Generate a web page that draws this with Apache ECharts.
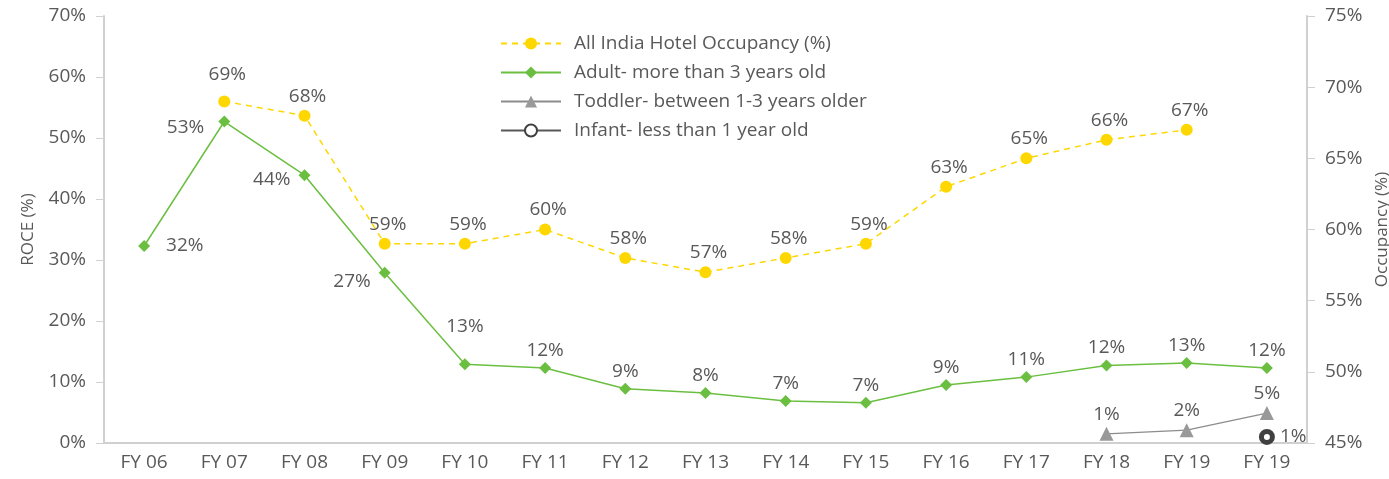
<!DOCTYPE html>
<html>
<head>
<meta charset="utf-8">
<script src="https://cdn.jsdelivr.net/npm/echarts@6/dist/echarts.min.js"></script>
<style>html,body{margin:0;padding:0;background:#fff}#c{width:1389px;height:479px}</style>
</head>
<body>
<div id="c"></div>
<script>
const categories = ['FY 06','FY 07','FY 08','FY 09','FY 10','FY 11','FY 12','FY 13','FY 14','FY 15','FY 16','FY 17','FY 18','FY 19','FY 19'];
const occupancy = [null, 69.0, 68.0, 59.0, 59.0, 60.0, 58.0, 57.0, 58.0, 59.0, 63.0, 65.0, 66.3, 67.0, null];
const occupancyLabels = ['', '69%', '68%', '59%', '59%', '60%', '58%', '57%', '58%', '59%', '63%', '65%', '66%', '67%', ''];
const adult = [32.3, 52.7, 43.9, 27.9, 12.9, 12.3, 8.9, 8.2, 6.9, 6.6, 9.5, 10.8, 12.7, 13.1, 12.3];
const adultLabels = ['32%','53%','44%','27%','13%','12%','9%','8%','7%','7%','9%','11%','12%','13%','12%'];
const toddler = [null,null,null,null,null,null,null,null,null,null,null,null, 1.5, 2.1, 4.9];
const toddlerLabels = ['','','','','','','','','','','','','1%','2%','5%'];
const infant = [null,null,null,null,null,null,null,null,null,null,null,null,null,null, 1.0];
const infantLabels = ['','','','','','','','','','','','','','','1%'];
const leftTicks = [0,10,20,30,40,50,60,70];
const rightTicks = [45,50,55,60,65,70,75];
const seriesNames = ['All India Hotel Occupancy (%)','Adult- more than 3 years old','Toddler- between 1-3 years older','Infant- less than 1 year old'];

const FONT = '"Open Sans", "Noto Sans", sans-serif';
const TXT = '#595959';
const AX = '#d0d0d0';
const FS = 19;

const adultLabelCfg = adult.map((v, i) => {
  if (i === 0) return { position: 'right', distance: 16, offset: [0, 0] };
  if (i === 1) return { position: 'left', distance: 14, offset: [0, 6] };
  if (i === 2) return { position: 'left', distance: 8, offset: [0, 4] };
  if (i === 3) return { position: 'left', distance: 8, offset: [0, 9] };
  if (i === 4) return { position: 'top', distance: 22 };
  return { position: 'top', distance: 2 };
});
const occLabelCfg = occupancy.map((v, i) => (i === 1 ? { distance: 11, offset: [3, 0] } : { distance: 4, offset: [3, 0] }));

const chart = echarts.init(document.getElementById('c'));
chart.setOption({
  animation: false,
  textStyle: { fontFamily: FONT },
  grid: { left: 104, right: 82, top: 16, bottom: 36, outerBoundsMode: 'none', containLabel: false },
  legend: {
    orient: 'vertical',
    left: 495, top: 29,
    itemWidth: 60, itemHeight: 15, itemGap: 10,
    textStyle: { fontFamily: FONT, fontSize: FS, color: TXT, padding: [0, 0, 0, 8] },
    data: seriesNames
  },
  xAxis: {
    type: 'category',
    data: categories,
    boundaryGap: true,
    axisLine: { lineStyle: { color: AX, width: 2 } },
    axisTick: { length: 10, lineStyle: { color: AX, width: 1.5 } },
    axisLabel: { color: TXT, fontSize: FS, margin: 10, interval: 0 }
  },
  yAxis: [{
    type: 'value', min: 0, max: 70, interval: 10,
    name: 'ROCE (%)', nameLocation: 'middle', nameGap: 67, nameRotate: 90,
    nameTextStyle: { color: TXT, fontSize: 17, fontFamily: FONT },
    axisLine: { show: true, lineStyle: { color: AX, width: 2 } },
    axisTick: { show: true, length: 8, lineStyle: { color: AX } },
    splitLine: { show: false },
    axisLabel: { color: TXT, fontSize: FS, margin: 18, formatter: v => v + '%' }
  }, {
    type: 'value', min: 45, max: 75, interval: 5, position: 'right',
    name: 'Occupancy (%)', nameLocation: 'middle', nameGap: 61, nameRotate: 90,
    nameTextStyle: { color: TXT, fontSize: 17, fontFamily: FONT },
    axisLine: { show: true, lineStyle: { color: AX, width: 2 } },
    axisTick: { show: true, length: 8, lineStyle: { color: AX } },
    splitLine: { show: false },
    axisLabel: { color: TXT, fontSize: FS, margin: 18, formatter: v => v + '%' }
  }],
  series: [{
    name: seriesNames[0], type: 'line', yAxisIndex: 1,
    data: occupancy.map((v, i) => ({ value: v, label: occLabelCfg[i] })),
    symbol: 'circle', symbolSize: 12,
    itemStyle: { color: '#ffd700' },
    lineStyle: { color: '#ffd700', width: 1.5, type: [6, 5] },
    label: { show: true, position: 'top', color: TXT, fontSize: FS,
      formatter: p => occupancyLabels[p.dataIndex] },
    z: 3
  }, {
    name: seriesNames[1], type: 'line', yAxisIndex: 0,
    data: adult.map((v, i) => ({ value: v, label: adultLabelCfg[i] })),
    symbol: 'diamond', symbolSize: 12,
    itemStyle: { color: '#6bbf40' },
    lineStyle: { color: '#6bbf40', width: 1.5 },
    label: { show: true, color: TXT, fontSize: FS,
      formatter: p => adultLabels[p.dataIndex] },
    z: 4
  }, {
    name: seriesNames[2], type: 'line', yAxisIndex: 0,
    data: toddler,
    symbol: 'triangle', symbolSize: 14,
    itemStyle: { color: '#999999' },
    lineStyle: { color: '#8c8c8c', width: 1.2 },
    label: { show: true, position: 'top', distance: 3, color: TXT, fontSize: FS,
      formatter: p => toddlerLabels[p.dataIndex] },
    z: 4
  }, {
    name: seriesNames[3], type: 'line', yAxisIndex: 0,
    data: infant,
    symbol: 'circle', symbolSize: 11,
    itemStyle: { color: '#ffffff', borderColor: '#404040', borderWidth: 5 },
    lineStyle: { color: '#595959', width: 1.5 },
    label: { show: true, position: 'right', distance: 5, color: TXT, fontSize: FS,
      formatter: p => infantLabels[p.dataIndex] },
    z: 5
  }]
});
</script>
</body>
</html>
